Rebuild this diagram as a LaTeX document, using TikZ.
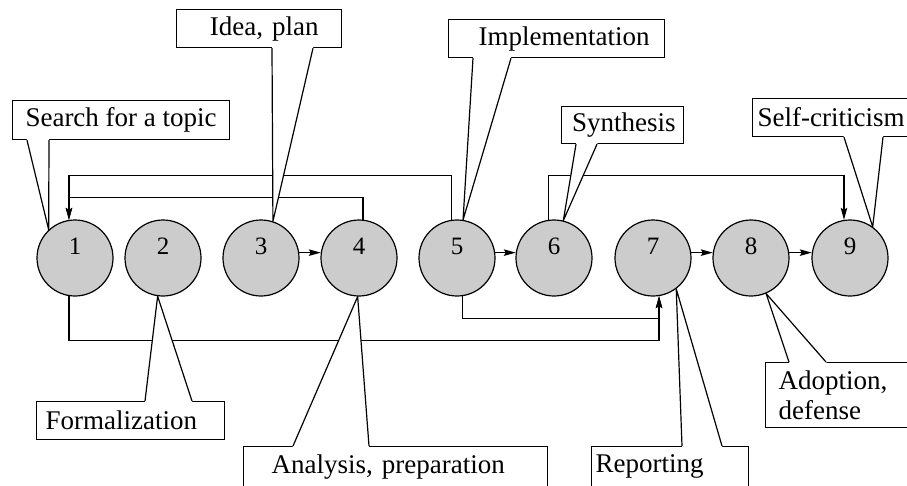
\documentclass[tikz,border=0pt]{standalone}
\usepackage{fontspec}
\setmainfont{Liberation Serif}
\usetikzlibrary{calc,arrows.meta}
\tikzstyle{stage}=[circle,draw,fill=gray!40,line width=1.2pt,minimum size=76pt,inner sep=0pt,text height=17pt,text depth=25pt,font=\fontsize{25}{28}\selectfont]
\tikzstyle{callbox}=[draw,fill=white,line width=1.2pt,anchor=north west,inner ysep=0pt,font=\fontsize{27}{30}\selectfont]
\tikzstyle{link}=[line width=1.2pt,-{Stealth[length=12pt,width=6.5pt,inset=2pt]}]
\tikzstyle{wire}=[line width=1.2pt,line join=round]
\newcommand{\drawcallout}[4]{
% #1 edge of the box, #2 #3 where the two legs leave it, #4 point on the stage
\coordinate (legA) at ($(#1)+(#2,0)$);
\coordinate (legB) at ($(#1)+(#3,0)$);
\fill[white] ($(legA)!-2pt!(#4)$) -- (#4) -- ($(legB)!-2pt!(#4)$) -- cycle;
\draw[wire] (legA) -- (#4) -- (legB);
}

\begin{document}
\begin{tikzpicture}[x=1pt,y=-1pt] % pixel units, y downwards
\useasboundingbox (0,0) rectangle (907,485);
\foreach \n/\x in {1/75,2/163,3/261,4/359,5/457,6/554,7/653,8/751,9/850}
  \node[stage] (c\n) at (\x,258) {\n};

\draw[link] (c3.8) -- (c4.172);
\draw[link] (c5.8) -- (c6.172);
\draw[link] (c7.8) -- (c8.172);
\draw[link] (c8.8) -- (c9.172);
% returns above the row
\draw[link] (c4.84) -- ++(0,-22) -| (c1.99);
\draw[link] (c5.98) -- ++(0,-44) -| (c1.99);
\draw[link] (c6.98) -- ++(0,-44) -| (c9.99);
% jumps below the row
\draw[link] (c1.-99) -- ++(0,44) -| (c7.-81);
\draw[link] (c5.-82) -- ++(0,22) -| (c7.-81);

\node[callbox,minimum height=39pt,minimum width=217pt,inner xsep=0pt] (search) at (12,100) {Search for a topic};
\node[callbox,minimum height=38pt,text width=119pt,inner xsep=23pt,align=right] (idea) at (176,9) {Idea, plan};
\node[callbox,minimum height=38pt,text width=186pt,inner xsep=15pt,align=right] (impl) at (448,19) {Implementation};
\node[callbox,minimum height=37pt,text width=106pt,inner xsep=8pt,align=right] (synth) at (561,106) {Synthesis};
\node[callbox,minimum height=38pt,text width=160pt,inner xsep=5pt,align=left] (selfcrit) at (752,98) {Self-criticism};
\node[callbox,minimum height=38pt,text width=170pt,inner xsep=9pt,align=left] (formal) at (36,401) {Formalization};
\node[callbox,minimum height=40pt,text width=248pt,inner xsep=28pt,align=left] (analysis) at (243,446) {Analysis, preparation};
\node[callbox,minimum height=40pt,text width=149pt,inner xsep=4pt,align=left] (report) at (591,446) {Reporting};
\node[callbox,minimum height=65pt,text width=124pt,inner xsep=13pt,align=left] (adopt) at (765,362) {Adoption,\\defense};

\drawcallout{search.south west}{15}{37}{c1.133}
\drawcallout{idea.south west}{96}{137}{c3.72}
\drawcallout{impl.south west}{25}{63}{c5.81}
\drawcallout{synth.south west}{15}{36}{c6.76}
\drawcallout{selfcrit.south west}{92}{131}{c9.54}
\drawcallout{formal.north west}{109}{156}{c2.-98}
\drawcallout{analysis.north west}{50}{126}{c4.-92}
\drawcallout{report.north west}{91}{131}{c7.-53}
\drawcallout{adopt.north west}{24}{61}{c8.-67}
\end{tikzpicture}
\end{document}
